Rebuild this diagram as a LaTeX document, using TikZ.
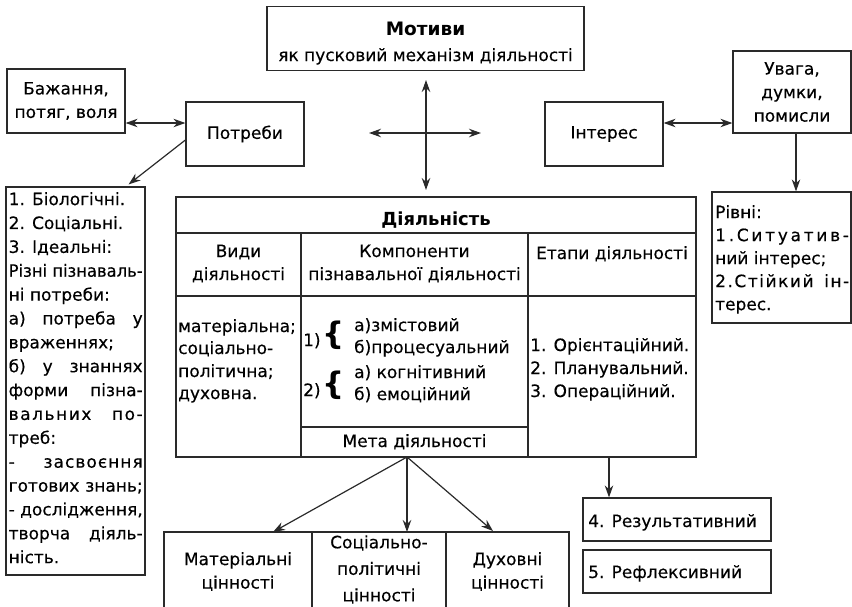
\documentclass[tikz,border=0pt]{standalone}
\usepackage{fontspec}
\usepackage{graphicx}
\setmainfont{DejaVu Sans}[UprightFeatures={FakeBold=0.35}]
\usetikzlibrary{arrows.meta}
\definecolor{lc}{HTML}{2A2A2A}
\newcommand\fs{\fontsize{17}{23.5}\selectfont}
\newcommand\ls[2]{{\addfontfeature{LetterSpace=#1}#2}}
\newsavebox\fitbox
\newcommand\fitln[2]{\sbox\fitbox{#2}\ifdim\wd\fitbox>#1\relax\hbox{\resizebox{#1}{\height}{#2}}\else\hbox to #1{#2}\fi}
\newcommand\LL[1]{\fitln{134pt}{#1}}
\begin{document}
\begin{tikzpicture}[x=1pt,y=-1pt,
  every node/.style={font=\fs, text=black, inner sep=0pt},
  box/.style={draw=lc, line width=1.2pt, align=center},
  lin/.style={draw=lc, line width=1.2pt},
  arr/.style={lc, line width=1.2pt, -{Stealth[length=12pt,width=8.5pt]}},
  darr/.style={lc, line width=1.2pt, {Stealth[length=12pt,width=8.5pt]}-{Stealth[length=12pt,width=8.5pt]}},
]
\useasboundingbox (0,0) rectangle (852,606);

% Motives
\node[box, minimum width=317pt, minimum height=64pt] (mot) at (425.5,38.5) {};
\node[anchor=base] (motA) at (425.5,35) {\fontsize{18.5}{22}\selectfont\bfseries Мотиви};
\node[anchor=base] (motB) at (425.5,61) {як пусковий механізм діяльності};

% top row boxes
\node[box, minimum width=118pt, minimum height=64pt] (baz) at (66,101) {Бажання,\\потяг, воля};
\node[box, minimum width=118pt, minimum height=64pt] (potr) at (245,134) {Потреби};
\node[box, minimum width=118pt, minimum height=64pt] (inter) at (604,134) {Інтерес};
\node[box, minimum width=118pt, minimum height=82pt] (uv) at (792,92) {Увага,\\думки,\\помисли};

% needs list
\node[box, minimum width=139pt, minimum height=388pt] (need) at (75.5,381) {};
\node[anchor=north west] (needT) at (8.5,192) {\vbox{\fontsize{17}{23.87}\selectfont
\LL{1. Біологічні.\hfil}
\LL{2. Соціальні.\hfil}
\LL{3. Ідеальні:\hfil}
\LL{Різні \hfill пізнаваль-}
\LL{ні потреби:\hfil}
\LL{а) \hfill потреба \hfill у}
\LL{враженнях;\hfil}
\LL{б) \hfill у \hfill знаннях}
\LL{форми \hfill пізна-}
\LL{\ls{9}{вальних} \hfill \ls{9}{по-}}
\LL{треб:\hfil}
\LL{- \hfill \ls{6}{засвоєння}}
\LL{готових \hfill знань;}
\LL{- \hfill дослідження,}
\LL{творча \hfill діяль-}
\LL{ність.\hfil}}};

% levels
\node[box, minimum width=139pt, minimum height=131pt] (riv) at (781.5,257.5) {};
\node[anchor=north west] (rivT) at (715,205) {\vbox{\fontsize{17}{23}\selectfont
\LL{Рівні:\hfil}
\LL{\ls{16}{1.Ситуатив-}\hfil}
\LL{ний інтерес;\hfil}
\LL{\ls{9}{2.Стійкий} \hfill \ls{9}{ін-}}
\LL{терес.\hfil}}};

% table
\node[box, minimum width=520pt, minimum height=260pt] (tbl) at (436,327) {};
\draw[lin] (176,233) -- (696,233);
\draw[lin] (176,296) -- (696,296);
\draw[lin] (301,233) -- (301,457);
\draw[lin] (528,233) -- (528,457);
\draw[lin] (301,427) -- (528,427);
\node[anchor=base] (tT) at (436,225) {\fontsize{18}{22}\selectfont\bfseries Діяльність};
\node[anchor=base] (h1a) at (238.5,257) {Види};
\node[anchor=base] (h1b) at (238.5,280) {діяльності};
\node[anchor=base] (h2a) at (414.5,257) {Компоненти};
\node[anchor=base] (h2b) at (414.5,280) {пізнавальної діяльності};
\node[anchor=base] (h3) at (612,259) {Етапи діяльності};
\node[anchor=base west] (c1a) at (178,332) {матеріальна;};
\node[anchor=base west] (c1b) at (178,354) {соціально-};
\node[anchor=base west] (c1c) at (178,377) {політична;};
\node[anchor=base west] (c1d) at (178,399) {духовна.};
\node[anchor=base west] (n1) at (303,346) {1)};
\node[anchor=base west] (n2) at (303,396) {2)};
\node (br1) at (334,335) {\fontsize{31}{31}\selectfont\bfseries\{};
\node (br2) at (334,385) {\fontsize{31}{31}\selectfont\bfseries\{};
\node[anchor=base west] (k1) at (354,331) {а)змістовий};
\node[anchor=base west] (k2) at (354,353) {б)процесуальний};
\node[anchor=base west] (k3) at (354,378) {а) когнітивний};
\node[anchor=base west] (k4) at (354,400) {б) емоційний};
\node[anchor=base] (meta) at (414.5,447) {Мета діяльності};
\node[anchor=base west] (e1) at (530,351) {1. Орієнтаційний.};
\node[anchor=base west] (e2) at (530,374) {2. Планувальний.};
\node[anchor=base west] (e3) at (530,397) {3. Операційний.};

% values
\draw[lin] (164,607) -- (164,532) -- (569,532) -- (569,607);
\draw[lin] (312,532) -- (312,607);
\draw[lin] (446,532) -- (446,607);
\node[align=center] (v1) at (238,571.5) {Матеріальні\\цінності};
\node[align=center, font=\fontsize{17}{26.5}\selectfont] (v2) at (379,569.5) {Соціально-\\політичні\\цінності};
\node[align=center] (v3) at (507.5,571.5) {Духовні\\цінності};

% results
\node[box, minimum width=188pt, minimum height=43pt] (r4) at (677,519.5) {};
\node[anchor=base west] (r4T) at (588,527) {4. Результативний};
\node[box, minimum width=188pt, minimum height=43pt] (r5) at (677,571.5) {};
\node[anchor=base west] (r5T) at (588,578) {5. Рефлексивний};

% coordinates
\coordinate (cN) at (426,80);
\coordinate (cS) at (426,190);
\coordinate (cW) at (369,133);
\coordinate (cE) at (481,133);
\coordinate (mS) at (407,457);
\coordinate (v1t) at (273,532);
\coordinate (v2t) at (407,532);
\coordinate (v3t) at (493,531);
\coordinate (x609) at (609,0);

% connectors
\draw[darr] (cN) -- (cS);
\draw[darr] (cW) -- (cE);
\draw[darr] ([yshift=-22pt]baz.east) -- ([yshift=11pt]potr.west);
\draw[darr] ([yshift=11pt]inter.east) -- ([yshift=-31pt]uv.west);
\draw[arr] ([yshift=-6pt]potr.west) -- ([xshift=-17pt,yshift=2pt]need.north east);
\draw[arr] ([xshift=4pt]uv.south) -- ([xshift=4pt]uv.south |- riv.north);
\draw[arr] (mS) -- (v1t);
\draw[arr] (mS) -- (v2t);
\draw[arr] (mS) -- (v3t);
\draw[arr] (tbl.south -| x609) -- (r4.north -| x609);
\end{tikzpicture}
\end{document}
